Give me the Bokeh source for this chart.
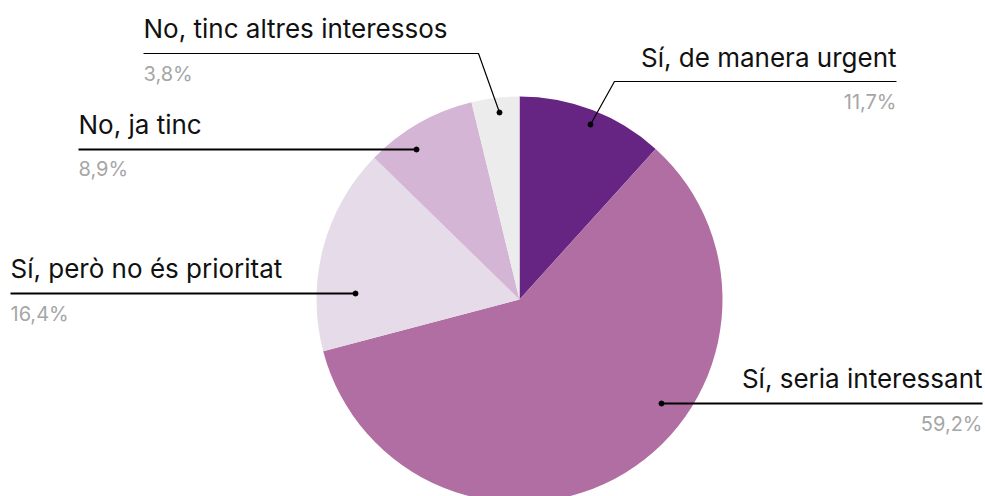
import numpy as np
from bokeh.plotting import figure
from bokeh.models import Range1d, ColumnDataSource
from bokeh.core.properties import value
from bokeh.embed import file_html
from bokeh.resources import INLINE

# ---- data ----
categories = ["Sí, de manera urgent", "Sí, seria interessant", "Sí, però no és prioritat",
              "No, ja tinc", "No, tinc altres interessos"]
percent = [11.7, 59.2, 16.4, 8.9, 3.8]
pct_labels = ["11,7%", "59,2%", "16,4%", "8,9%", "3,8%"]
colors = ["#662483", "#b06ea3", "#e6dbe8", "#d5b5d5", "#ececec"]

# ---- layout (page pixel positions) ----
W, H = 985, 496
def X(px): return px
def Y(py): return H - py

cx, cy, R = 519, 299, 203
TXT_SHIFT = 9  # baseline correction for rendered text

vals = np.array(percent)
frac = vals / vals.sum()
ends = np.cumsum(frac) * 2 * np.pi
starts = np.concatenate([[0], ends[:-1]])
start_angle = np.pi / 2 - starts
end_angle = np.pi / 2 - ends

p = figure(width=W, height=H, x_range=Range1d(0, W), y_range=Range1d(0, H),
           output_backend="svg", toolbar_location=None, min_border=0,
           outline_line_color=None)
p.axis.visible = False
p.grid.visible = False
p.background_fill_color = "white"

src = ColumnDataSource(dict(start=start_angle, end=end_angle, color=colors, cat=categories))
p.wedge(x=X(cx), y=Y(cy), radius=R, start_angle="start", end_angle="end",
        direction="clock", fill_color="color", line_color=None, source=src)

layout = [
    dict(tx=896, align="right", ty=66, ly=81, lx0=614, lx1=896, dot=(590, 124), py=110, lw=1.2),
    dict(tx=982, align="right", ty=387, ly=403, lx0=661, lx1=982, dot=(661, 403), py=432, lw=1.8),
    dict(tx=10, align="left", ty=277, ly=293, lx0=10, lx1=355, dot=(355, 293), py=322, lw=1.8),
    dict(tx=78, align="left", ty=133, ly=149, lx0=78, lx1=416, dot=(416, 149), py=177, lw=1.8),
    dict(tx=143, align="left", ty=37, ly=53, lx0=143, lx1=478, dot=(499, 112), py=82, lw=1.2),
]

font = value("Inter")
for i, L in enumerate(layout):
    p.text(x=[X(L["tx"])], y=[Y(L["ty"] - TXT_SHIFT)], text=[categories[i]], text_align=L["align"],
           text_baseline="alphabetic", text_font=font, text_font_size="26px",
           text_color="#111111")
    p.text(x=[X(L["tx"])], y=[Y(L["py"] - TXT_SHIFT)], text=[pct_labels[i]], text_align=L["align"],
           text_baseline="alphabetic", text_font=font, text_font_size="20px",
           text_color="#a6a6a6")
    dx, dy = L["dot"]
    if L["align"] == "right":
        xs = [X(dx), X(L["lx0"]), X(L["lx1"])]
        ys = [Y(dy), Y(L["ly"]), Y(L["ly"])]
    else:
        xs = [X(L["lx0"]), X(L["lx1"]), X(dx)]
        ys = [Y(L["ly"]), Y(L["ly"]), Y(dy)]
    p.line(xs, ys, line_color="black", line_width=L["lw"])
    p.scatter(x=[X(dx)], y=[Y(dy)], size=5, color="black")

open("out.html", "w").write(file_html(p, INLINE))
